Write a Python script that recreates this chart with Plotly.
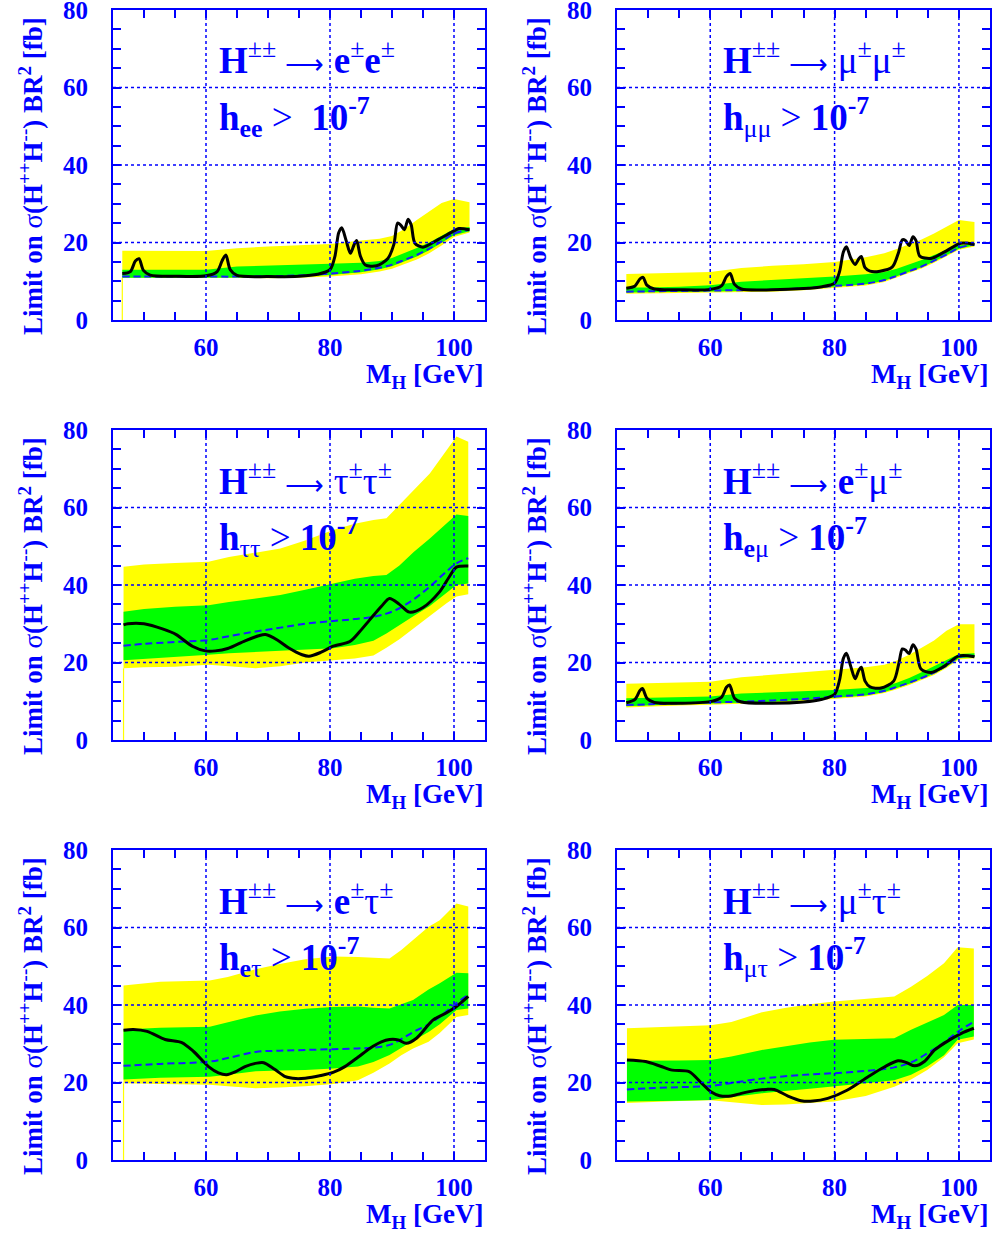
import plotly.graph_objects as go

# ---------------- data ----------------
# Panel 1: H -> e e
band_x_ee = [46.5, 50, 55, 60, 65, 70, 75, 80, 85, 88, 90, 92, 94, 96, 98, 100, 102.5]
y_hi_ee = [17.9, 17.9, 17.9, 17.8, 18.5, 19.0, 19.3, 19.6, 20.5, 21.0, 21.7, 23.5, 25.8, 28.0, 30.2, 31.2, 30.4]
g_hi_ee = [13.0, 13.0, 13.0, 13.0, 13.8, 14.0, 14.2, 14.5, 14.8, 15.2, 16.0, 17.2, 18.6, 20.0, 21.8, 23.5, 24.0]
exp_ee = [11.2, 11.2, 11.2, 11.2, 11.2, 11.3, 11.5, 12.0, 12.7, 13.5, 14.3, 15.5, 16.8, 18.4, 20.3, 22.3, 23.3]
g_lo_ee = [10.9, 10.9, 10.9, 10.9, 10.9, 11.0, 11.2, 11.6, 12.3, 13.1, 13.9, 15.1, 16.4, 18.0, 19.9, 21.9, 22.9]
y_lo_ee = [10.9, 10.9, 10.9, 10.9, 10.8, 10.8, 10.9, 11.2, 11.8, 12.5, 13.2, 14.3, 15.6, 17.2, 19.2, 21.4, 22.6]
obs_x_ee = [46.5, 47.8, 48.6, 49.2, 49.9, 51, 55, 60, 61.8, 62.6, 63.2, 63.9, 65, 70, 75, 78, 80, 80.8,
            81.4, 81.9, 82.6, 83.3, 83.9, 84.3, 84.9, 85.7, 87.5, 89.3, 90.3, 90.9, 91.4, 92.0, 92.6,
            93.1, 93.7, 95.0, 97.5, 100, 100.8, 102.5]
obs_ee = [12.0, 12.5, 15.2, 15.8, 12.8, 11.6, 11.3, 11.4, 12.5, 15.3, 16.8, 13.0, 11.5, 11.2, 11.3, 11.8,
          13.0, 16.5, 22.5, 23.8, 20.5, 17.2, 19.5, 20.5, 16.5, 14.2, 14.0, 15.8, 19.5, 25.0, 24.5, 23.3,
          26.0, 24.5, 19.8, 18.8, 20.8, 23.0, 23.6, 23.3]

# Panel 2: H -> mu mu
band_x_mm = [46.5, 50, 55, 60, 65, 70, 75, 80, 85, 88, 90, 92, 94, 96, 98, 100, 102.5]
y_hi_mm = [11.9, 12.0, 12.2, 12.4, 13.4, 14.0, 14.4, 15.0, 16.2, 17.2, 18.3, 19.5, 20.8, 22.3, 24.0, 25.8, 25.3]
g_hi_mm = [8.4, 8.4, 8.6, 9.0, 9.9, 10.3, 10.7, 11.2, 11.8, 12.4, 13.2, 14.3, 15.5, 16.8, 18.0, 19.3, 19.6]
exp_mm = [7.3, 7.4, 7.5, 7.6, 7.7, 7.8, 8.2, 8.8, 9.4, 10.3, 11.4, 12.6, 13.8, 15.3, 16.9, 18.6, 19.5]
g_lo_mm = [7.1, 7.2, 7.3, 7.4, 7.5, 7.6, 8.0, 8.6, 9.2, 10.1, 11.2, 12.4, 13.6, 15.1, 16.7, 18.4, 19.3]
y_lo_mm = [6.8, 6.9, 7.0, 7.1, 7.2, 7.3, 7.7, 8.3, 8.9, 9.8, 10.9, 12.1, 13.3, 14.8, 16.4, 18.1, 19.0]
obs_x_mm = [46.5, 47.9, 48.7, 49.2, 49.8, 51, 55, 60, 61.8, 62.6, 63.2, 63.9, 65, 70, 75, 78, 80, 80.8,
            81.4, 81.9, 82.6, 83.3, 83.9, 84.3, 84.9, 85.7, 87.3, 89.3, 90.3, 90.9, 91.4, 92.0, 92.6,
            93.1, 93.7, 95.5, 97.6, 100.3, 102.5]
obs_mm = [8.2, 8.8, 10.6, 11.0, 9.0, 8.0, 7.8, 7.9, 8.8, 11.2, 12.0, 9.2, 8.0, 7.8, 8.1, 8.6, 9.5, 12.5,
          17.5, 18.9, 16.0, 14.3, 15.8, 16.4, 13.5, 12.6, 12.6, 13.7, 17.5, 20.7, 20.5, 19.2, 21.5,
          20.5, 16.5, 15.9, 17.5, 19.8, 19.5]

# Panel 3: H -> tau tau
band_x_tt = [46.7, 50, 55, 60.4, 63.7, 68, 72, 76, 80.5, 84, 87, 89.1, 91.2, 93.5, 96.1, 98.8, 100.4, 102.3]
y_hi_tt = [44.7, 45.3, 45.7, 46.0, 47.2, 48.3, 49.4, 51.5, 54.2, 55.8, 56.8, 57.2, 60.6, 64.5, 68.8, 74.8, 78.3, 77.0]
g_hi_tt = [33.1, 33.8, 34.4, 34.8, 35.6, 36.5, 37.4, 38.8, 40.4, 41.6, 42.3, 42.6, 45.0, 48.5, 52.0, 56.0, 58.2, 57.8]
exp_tt = [24.3, 24.8, 25.3, 25.8, 26.8, 28.0, 29.0, 30.0, 30.7, 31.2, 31.8, 32.6, 34.0, 36.3, 39.6, 43.5, 45.6, 46.9]
g_lo_tt = [20.6, 21.0, 21.5, 22.0, 22.4, 22.8, 23.1, 23.4, 23.7, 24.5, 25.6, 27.5, 29.6, 32.0, 34.6, 38.0, 40.0, 40.4]
y_lo_tt = [18.5, 18.8, 18.9, 19.4, 19.0, 18.5, 19.0, 20.0, 20.6, 21.0, 21.8, 23.8, 26.0, 28.8, 32.0, 35.3, 37.0, 37.6]
obs_x_tt = [46.7, 47.4, 50, 53.1, 55.2, 57.8, 59.9, 61.5, 63.5, 66.3, 68.5, 69.6, 71.5, 73.3, 75.5, 76.6,
            78.5, 80.5, 83.2, 84.8, 86.4, 88.3, 89.6, 91.2, 92.8, 95, 97.7, 99.2, 100.4, 102.3]
obs_tt = [29.7, 30.0, 30.0, 28.6, 27.2, 24.2, 23.0, 23.0, 23.6, 25.6, 26.9, 27.2, 25.8, 23.8, 22.0, 21.6,
          22.6, 24.2, 25.4, 28.0, 31.0, 34.5, 36.5, 35.0, 33.0, 34.2, 38.3, 42.0, 44.6, 44.9]

# Panel 4: H -> e mu
band_x_em = [46.5, 50, 55, 60, 65, 70, 75, 80, 85, 88, 90, 92, 94, 96, 98, 100, 102.5]
y_hi_em = [14.5, 14.6, 14.8, 15.0, 16.2, 16.8, 17.4, 18.1, 18.8, 19.4, 20.5, 22.0, 23.8, 25.7, 28.2, 29.9, 29.9]
g_hi_em = [10.8, 10.9, 11.0, 11.2, 12.0, 12.3, 12.6, 12.9, 13.4, 13.8, 14.8, 16.0, 17.5, 19.0, 20.6, 22.2, 22.4]
exp_em = [9.0, 9.2, 9.5, 9.7, 9.9, 10.2, 10.6, 11.2, 11.8, 12.7, 13.7, 14.8, 16.0, 17.4, 19.2, 21.4, 21.7]
g_lo_em = [8.7, 8.9, 9.2, 9.4, 9.6, 9.9, 10.3, 10.9, 11.5, 12.4, 13.4, 14.5, 15.7, 17.1, 18.9, 21.1, 21.4]
y_lo_em = [8.4, 8.6, 8.9, 9.1, 9.3, 9.6, 10.0, 10.6, 11.2, 12.1, 13.1, 14.2, 15.4, 16.8, 18.6, 20.8, 21.1]
obs_x_em = [46.5, 47.9, 48.7, 49.1, 49.8, 51, 55, 60, 61.8, 62.6, 63.1, 63.9, 65, 70, 75, 78, 80, 80.8,
            81.4, 81.9, 82.6, 83.3, 83.9, 84.3, 84.9, 85.7, 87.5, 89.5, 90.3, 90.9, 91.4, 92.0, 92.6,
            93.1, 93.9, 95.5, 97.6, 100, 102.5]
obs_em = [9.6, 10.5, 12.8, 13.3, 10.8, 9.7, 9.5, 9.9, 11.0, 13.6, 14.2, 10.8, 9.8, 9.5, 9.8, 10.5, 11.8,
          15.5, 21.0, 22.4, 19.0, 15.8, 18.0, 18.8, 15.2, 13.7, 13.4, 15.2, 19.5, 23.5, 23.2, 22.3, 24.6,
          23.5, 18.3, 17.4, 19.0, 21.7, 21.5]

# Panel 5: H -> e tau
band_x_et = [46.7, 52.6, 60.6, 63.5, 68, 71.9, 76, 80.5, 84.5, 87, 89.6, 91.5, 93.4, 95.9, 97.7, 100.4, 102.3]
y_hi_et = [45.0, 46.0, 46.3, 47.2, 49.2, 50.6, 51.8, 52.5, 52.4, 52.2, 52.0, 54.2, 56.8, 60.2, 61.9, 66.2, 65.4]
g_hi_et = [33.7, 34.1, 34.4, 35.5, 37.3, 38.3, 39.0, 39.5, 39.6, 39.3, 39.1, 40.2, 41.3, 44.0, 45.6, 48.3, 48.2]
exp_et = [24.3, 24.8, 25.4, 26.3, 27.9, 28.2, 28.4, 28.6, 28.8, 29.0, 29.7, 31.2, 33.0, 35.0, 37.0, 40.5, 42.6]
g_lo_et = [20.8, 21.2, 21.5, 22.0, 22.9, 23.1, 23.2, 23.6, 24.1, 25.3, 27.1, 29.0, 30.8, 33.0, 35.0, 38.7, 39.1]
y_lo_et = [19.8, 19.6, 19.4, 19.0, 18.5, 18.7, 19.0, 19.6, 20.6, 22.5, 24.9, 27.0, 28.8, 30.5, 32.8, 36.9, 37.4]
obs_x_et = [46.7, 48.3, 50.5, 53.4, 56.1, 58, 60.4, 62, 63.3, 64.8, 66.3, 68.2, 69.3, 71, 72.8, 74.5, 76,
            78.5, 80.5, 82.4, 84.5, 86.4, 88.3, 89.6, 91.0, 92.3, 94, 96.6, 98.8, 100.4, 102.3]
obs_et = [33.5, 33.7, 33.2, 31.1, 30.3, 28.0, 24.1, 22.5, 22.0, 22.8, 24.1, 25.0, 25.1, 23.5, 21.5, 21.0,
          21.1, 21.8, 22.6, 24.1, 26.5, 28.8, 30.5, 31.1, 31.0, 30.1, 31.5, 36.1, 38.0, 39.6, 42.2]

# Panel 6: H -> mu tau
band_x_mt = [46.6, 50, 55, 60.1, 63.4, 68.3, 72, 76, 79.9, 85, 89.6, 92.3, 94.9, 97.6, 99.8, 102.4]
y_hi_mt = [34.0, 34.2, 34.5, 34.8, 35.6, 38.1, 39.2, 40.2, 40.9, 41.6, 42.2, 44.7, 47.5, 50.8, 54.9, 54.6]
g_hi_mt = [25.6, 25.6, 25.7, 25.8, 26.7, 28.4, 29.4, 30.3, 31.0, 31.2, 31.4, 33.6, 35.5, 37.4, 40.0, 40.0]
exp_mt = [18.2, 18.5, 18.8, 19.1, 19.9, 21.0, 21.6, 22.1, 22.4, 23.0, 23.9, 25.2, 27.5, 30.3, 33.1, 35.7]
g_lo_mt = [15.1, 15.2, 15.3, 15.5, 16.2, 17.2, 17.8, 18.4, 18.9, 19.8, 20.6, 22.0, 24.1, 27.0, 31.0, 31.9]
y_lo_mt = [14.7, 14.9, 15.2, 15.4, 15.0, 14.2, 14.3, 14.7, 15.1, 16.5, 18.9, 20.8, 23.2, 26.5, 30.1, 31.1]
obs_x_mt = [46.6, 49.6, 52, 53.9, 56.6, 58.5, 60.1, 61.5, 63.3, 65, 67.1, 69, 70.3, 72.5, 74.6, 76.5,
            78.9, 82, 85.4, 88, 90.2, 91.5, 92.9, 94.5, 96.1, 98.5, 100.4, 102.4]
obs_mt = [25.8, 25.4, 24.2, 23.2, 22.8, 20.0, 17.6, 16.6, 16.5, 17.2, 17.9, 18.2, 18.2, 16.5, 15.3, 15.2,
          15.9, 18.0, 21.5, 24.0, 25.6, 25.2, 24.3, 25.5, 28.4, 31.0, 32.7, 34.0]

# Panel labels
ARROW = "<span style='font-size:27px'>⟶</span>"
line1_labels = [f"<b>H</b><sup>±±</sup> {ARROW} <b>e</b><sup>±</sup><b>e</b><sup>±</sup>",
                f"<b>H</b><sup>±±</sup> {ARROW} μ<sup>±</sup>μ<sup>±</sup>",
                f"<b>H</b><sup>±±</sup> {ARROW} τ<sup>±</sup>τ<sup>±</sup>",
                f"<b>H</b><sup>±±</sup> {ARROW} <b>e</b><sup>±</sup>μ<sup>±</sup>",
                f"<b>H</b><sup>±±</sup> {ARROW} <b>e</b><sup>±</sup>τ<sup>±</sup>",
                f"<b>H</b><sup>±±</sup> {ARROW} μ<sup>±</sup>τ<sup>±</sup>"]
line2_labels = ["<b>h</b><sub><b>ee</b></sub> >  <b>10</b><sup><b>-7</b></sup>",
                "<b>h</b><sub>μμ</sub> > <b>10</b><sup><b>-7</b></sup>",
                "<b>h</b><sub>ττ</sub> > <b>10</b><sup><b>-7</b></sup>",
                "<b>h</b><sub><b>e</b>μ</sub> > <b>10</b><sup><b>-7</b></sup>",
                "<b>h</b><sub><b>e</b>τ</sub> > <b>10</b><sup><b>-7</b></sup>",
                "<b>h</b><sub>μτ</sub> > <b>10</b><sup><b>-7</b></sup>"]
x_ticks = [60, 80, 100]
y_ticks = [0, 20, 40, 60, 80]
y_title = "<b>Limit on </b>σ<b>(H</b><sup><b>++</b></sup><b>H</b><sup><b>--</b></sup><b>) BR</b><sup><b>2</b></sup><b> [fb]</b>"
x_title = "<b>M</b><sub><b>H</b></sub><b> [GeV]</b>"

panels = [
    (band_x_ee, y_hi_ee, y_lo_ee, g_hi_ee, g_lo_ee, exp_ee, obs_x_ee, obs_ee),
    (band_x_mm, y_hi_mm, y_lo_mm, g_hi_mm, g_lo_mm, exp_mm, obs_x_mm, obs_mm),
    (band_x_tt, y_hi_tt, y_lo_tt, g_hi_tt, g_lo_tt, exp_tt, obs_x_tt, obs_tt),
    (band_x_em, y_hi_em, y_lo_em, g_hi_em, g_lo_em, exp_em, obs_x_em, obs_em),
    (band_x_et, y_hi_et, y_lo_et, g_hi_et, g_lo_et, exp_et, obs_x_et, obs_et),
    (band_x_mt, y_hi_mt, y_lo_mt, g_hi_mt, g_lo_mt, exp_mt, obs_x_mt, obs_mt),
]

# ---------------- layout geometry ----------------
W, H = 993, 1239
BLUE = "#0000ff"
FONT = "Liberation Serif"
col_px = [(113, 485), (617, 990)]
row_px = [(10, 320), (430, 740), (850, 1160)]

fig = go.Figure()
layout = dict(width=W, height=H, margin=dict(l=0, r=0, t=0, b=0, autoexpand=False),
              paper_bgcolor="white", plot_bgcolor="white", showlegend=False)
annotations = []
shapes = []

for i, (bx, yhi, ylo, ghi, glo, ex, ox, oy) in enumerate(panels):
    r, c = divmod(i, 2)
    n = i + 1
    xa = "x" if n == 1 else f"x{n}"
    ya = "y" if n == 1 else f"y{n}"
    x0, x1 = col_px[c]
    t0, t1 = row_px[r]
    xdom = [x0 / W, x1 / W]
    ydom = [1 - t1 / H, 1 - t0 / H]

    fig.add_trace(go.Scatter(x=bx + bx[::-1], y=yhi + ylo[::-1], fill="toself",
                             fillcolor="#ffff00", line=dict(width=0),
                             mode="lines", xaxis=xa, yaxis=ya, hoverinfo="skip"))
    if c == 0:
        # thin yellow edge running down to zero at the band start (left-column panels)
        fig.add_trace(go.Scatter(x=[bx[0], bx[0]], y=[0, ylo[0]], mode="lines",
                                 line=dict(color="#ffff00", width=1.2),
                                 xaxis=xa, yaxis=ya, hoverinfo="skip"))
    fig.add_trace(go.Scatter(x=bx + bx[::-1], y=ghi + glo[::-1], fill="toself",
                             fillcolor="#00ff00", line=dict(width=0),
                             mode="lines", xaxis=xa, yaxis=ya, hoverinfo="skip"))
    fig.add_trace(go.Scatter(x=bx, y=ex, mode="lines",
                             line=dict(color="#1a1aff", width=2, dash="7px,4px", shape="spline"),
                             xaxis=xa, yaxis=ya))
    fig.add_trace(go.Scatter(x=ox, y=oy, mode="lines",
                             line=dict(color="black", width=3, shape="spline", smoothing=0.8),
                             xaxis=xa, yaxis=ya))

    axis_common = dict(showline=True, linecolor=BLUE, linewidth=2, mirror="ticks",
                       ticks="inside", ticklen=8, tickwidth=1.5, tickcolor=BLUE,
                       showgrid=False, zeroline=False, automargin=False,
                       ticklabeloverflow="allow",
                       tickfont=dict(family=FONT, size=25, color=BLUE, weight="bold"))
    layout["xaxis" if n == 1 else f"xaxis{n}"] = dict(
        axis_common, domain=xdom, anchor=ya, range=[45, 105], tickvals=x_ticks,
        ticklabelstandoff=4,
        minor=dict(dtick=5, tick0=0, ticks="inside", ticklen=8, tickcolor=BLUE, tickwidth=1.5))
    layout["yaxis" if n == 1 else f"yaxis{n}"] = dict(
        axis_common, domain=ydom, anchor=xa, range=[0, 80], tickvals=y_ticks,
        ticklabelstandoff=18,
        minor=dict(dtick=5, tick0=0, ticks="inside", ticklen=8, tickcolor=BLUE, tickwidth=1.5))

    # dotted grid drawn above the bands
    for gx in x_ticks:
        shapes.append(dict(type="line", xref=xa, yref=f"{ya} domain", x0=gx, x1=gx, y0=0, y1=1,
                           line=dict(color=BLUE, width=1.5, dash="dot"), layer="above"))
    for gy in y_ticks[1:-1]:
        shapes.append(dict(type="line", xref=f"{xa} domain", yref=ya, x0=0, x1=1, y0=gy, y1=gy,
                           line=dict(color=BLUE, width=1.5, dash="dot"), layer="above"))

    # panel text
    annotations.append(dict(text=line1_labels[i], xref=f"{xa} domain", yref=f"{ya} domain",
                            x=0.28, y=1 - (58 - 10) / 310, xanchor="left", yanchor="middle",
                            showarrow=False, font=dict(family=FONT, size=37, color=BLUE)))
    annotations.append(dict(text=line2_labels[i], xref=f"{xa} domain", yref=f"{ya} domain",
                            x=0.28, y=1 - (117 - 10) / 310, xanchor="left", yanchor="middle",
                            showarrow=False, font=dict(family=FONT, size=37, color=BLUE)))
    # axis titles
    annotations.append(dict(text=x_title, xref=f"{xa} domain", yref=f"{ya} domain",
                            x=1.0, y=-(376 - 320) / 310, xanchor="right", yanchor="middle",
                            showarrow=False, font=dict(family=FONT, size=27, color=BLUE)))
    annotations.append(dict(text=y_title, xref="paper", yref="paper",
                            x=(x0 - 82) / W, y=1 - (t0 + 166) / H, xanchor="center", yanchor="middle",
                            textangle=-90, showarrow=False,
                            font=dict(family=FONT, size=27, color=BLUE)))

layout["annotations"] = annotations
layout["shapes"] = shapes
fig.update_layout(**layout)
fig.write_html("out.html", config={"displayModeBar": False},
               post_script="document.body.style.margin='0';document.body.style.overflow='hidden';")
